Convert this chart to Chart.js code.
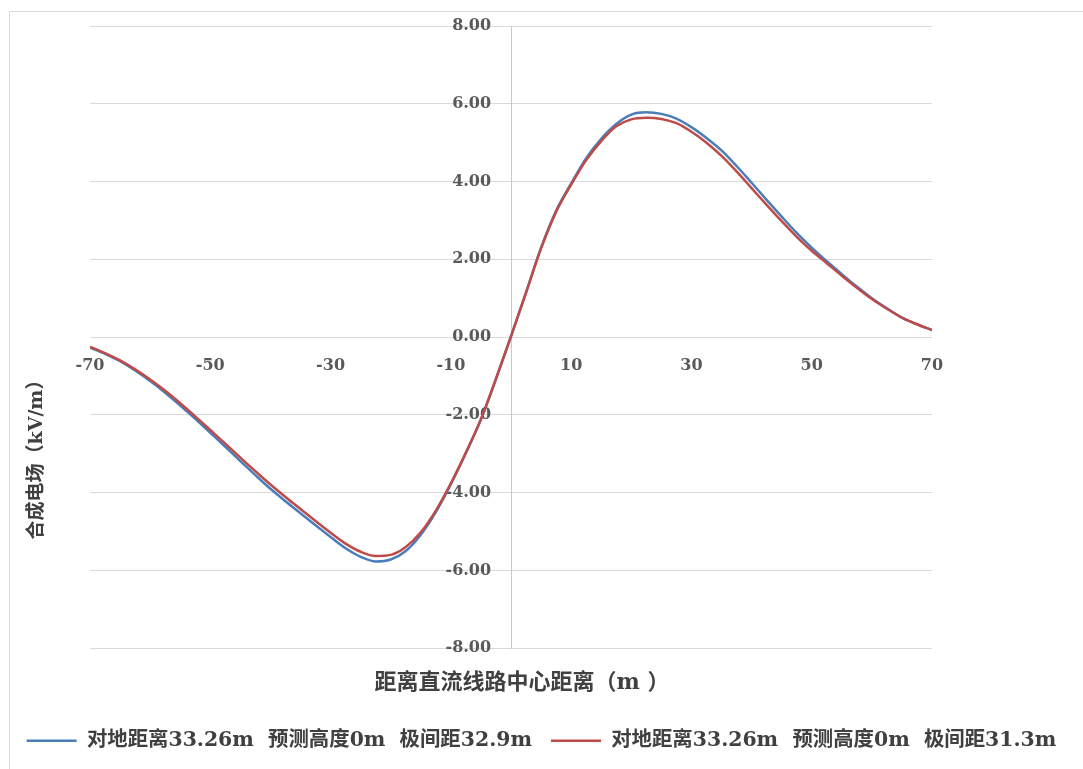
<!DOCTYPE html>
<html lang="zh">
<head>
    <meta charset="UTF-8">
    <title>合成电场</title>
    <script src="https://cdn.jsdelivr.net/npm/chart.js"></script>
    <style>
        body { margin: 0; background: #fff; }
        #wrap { position: relative; width: 1083px; height: 769px; }
        #frame { position: absolute; left: 9px; top: 11px; width: 1080px; height: 765px; border: 1px solid #d9d9d9; }
        #chart { position: absolute; left: 0; top: 0; }
    </style>
</head>
<body>
<div id="wrap">
    <div id="frame"></div>
    <canvas id="chart" width="1083" height="769"></canvas>
</div>
<script>
// distance from line centre (m)
var xValues = [-70, -67.5, -65, -62.5, -60, -57.5, -55, -52.5, -50, -47.5, -45, -42.5, -40, -37.5, -35, -32.5, -30, -27.5, -25, -22.5, -20, -17.5, -15, -12.5, -10, -7.5, -5, -2.5,
    0, 2.5, 5, 7.5, 10, 12.5, 15, 17.5, 20, 22.5, 25, 27.5, 30, 32.5, 35, 37.5, 40, 42.5, 45, 47.5, 50, 52.5, 55, 57.5, 60, 62.5, 65, 67.5, 70];

// pole spacing 32.9m
var blueValues = [-0.27, -0.43, -0.62, -0.86, -1.13, -1.43, -1.76, -2.10, -2.46, -2.82, -3.19, -3.55, -3.90, -4.22, -4.53, -4.84, -5.14, -5.43, -5.65, -5.77, -5.72, -5.50, -5.08, -4.50, -3.78, -2.98, -2.12, -1.08,
    0.02, 1.15, 2.30, 3.25, 3.95, 4.60, 5.10, 5.48, 5.72, 5.78, 5.74, 5.62, 5.40, 5.12, 4.80, 4.40, 3.97, 3.53, 3.10, 2.68, 2.30, 1.95, 1.62, 1.30, 1.00, 0.74, 0.50, 0.33, 0.18];

// pole spacing 31.3m
var redValues = [-0.25, -0.41, -0.60, -0.83, -1.09, -1.38, -1.70, -2.04, -2.39, -2.74, -3.10, -3.45, -3.79, -4.11, -4.42, -4.73, -5.03, -5.31, -5.52, -5.63, -5.60, -5.40, -5.02, -4.46, -3.76, -2.97, -2.11, -1.07,
    0.02, 1.14, 2.28, 3.22, 3.92, 4.55, 5.04, 5.42, 5.60, 5.64, 5.61, 5.50, 5.28, 5.00, 4.66, 4.26, 3.83, 3.40, 2.98, 2.58, 2.22, 1.90, 1.58, 1.27, 0.98, 0.73, 0.50, 0.33, 0.18];

var seriesNames = ['对地距离33.26m  预测高度0m  极间距32.9m', '对地距离33.26m  预测高度0m  极间距31.3m'];
var xTickValues = [-70, -50, -30, -10, 10, 30, 50, 70];
var xTitle = '\u3000距离直流线路中心距离（m ）';
var yTitle = '合成电场（kV/m）';

var serif = "'DejaVu Serif', 'Noto Sans CJK SC', serif";

function toPoints(ys) {
    return xValues.map(function (x, i) { return { x: x, y: ys[i] }; });
}

// empty side axes that only reserve room, so the legend keeps the full width
function spacer(pos, w) {
    return {
        type: 'linear',
        position: pos,
        grid: { display: false, drawTicks: false },
        border: { display: false },
        ticks: { display: false },
        afterFit: function (s) { s.width = w; }
    };
}

// y axis title sits lower than the centre, as in the original
var yTitlePlugin = {
    id: 'yTitle',
    afterDraw: function (chart) {
        var ctx = chart.ctx;
        ctx.save();
        ctx.translate(37, 455);
        ctx.rotate(-Math.PI / 2);
        ctx.font = 'bold 19px ' + serif;
        ctx.fillStyle = '#404040';
        ctx.textAlign = 'center';
        ctx.textBaseline = 'middle';
        ctx.fillText(yTitle, 0, 0);
        ctx.restore();
    }
};

var ctx = document.getElementById('chart').getContext('2d');
var chart = new Chart(ctx, {
    type: 'line',
    data: {
        datasets: [{
            label: seriesNames[0],
            data: toPoints(blueValues),
            xAxisID: 'x',
            yAxisID: 'y',
            borderColor: '#4a7ebb',
            backgroundColor: '#4a7ebb',
            borderWidth: 2.5,
            pointRadius: 0,
            cubicInterpolationMode: 'monotone',
            order: 2
        }, {
            label: seriesNames[1],
            data: toPoints(redValues),
            xAxisID: 'x',
            yAxisID: 'y',
            borderColor: '#be4b48',
            backgroundColor: '#be4b48',
            borderWidth: 2.5,
            pointRadius: 0,
            cubicInterpolationMode: 'monotone',
            order: 1
        }]
    },
    options: {
        responsive: false,
        animation: false,
        layout: { padding: { left: 0, right: 0, top: 26, bottom: 8 } },
        scales: {
            y: {
                min: -8,
                max: 8,
                position: { x: 0 },
                grid: { color: '#d9d9d9', lineWidth: 1, drawTicks: false },
                border: { color: '#c8c8c8', width: 1 },
                ticks: {
                    stepSize: 2,
                    color: '#595959',
                    font: { family: serif, size: 16, weight: 'bold' },
                    // trailing spaces keep the labels off the centred axis line
                    callback: function (v) { return v.toFixed(2) + '   \u2009'; }
                }
            },
            x: {
                type: 'linear',
                min: -70,
                max: 70,
                position: { y: 0 },
                afterBuildTicks: function (axis) {
                    axis.ticks = xTickValues.map(function (v) { return { value: v }; });
                },
                grid: { display: false, drawTicks: false },
                border: { display: false },
                ticks: {
                    padding: 19,
                    maxRotation: 0,
                    autoSkip: false,
                    color: '#595959',
                    font: { family: serif, size: 16, weight: 'bold' }
                }
            },
            x2: {
                type: 'linear',
                min: -70,
                max: 70,
                position: 'bottom',
                grid: { display: false, drawTicks: false },
                border: { display: false },
                ticks: { display: false },
                title: {
                    display: true,
                    text: xTitle,
                    color: '#404040',
                    font: { family: serif, size: 22, weight: 'bold' },
                    padding: { top: 22, bottom: 15 }
                }
            },
            padL: spacer('left', 90),
            padR: spacer('right', 151)
        },
        plugins: {
            legend: {
                position: 'bottom',
                labels: {
                    usePointStyle: true,
                    pointStyle: 'line',
                    pointStyleWidth: 50,
                    padding: 19,
                    color: '#404040',
                    font: { family: serif, size: 20.4, weight: 'bold' },
                    sort: function (a, b) { return a.datasetIndex - b.datasetIndex; }
                }
            },
            tooltip: { enabled: false }
        }
    },
    plugins: [yTitlePlugin]
});
</script>
</body>
</html>
